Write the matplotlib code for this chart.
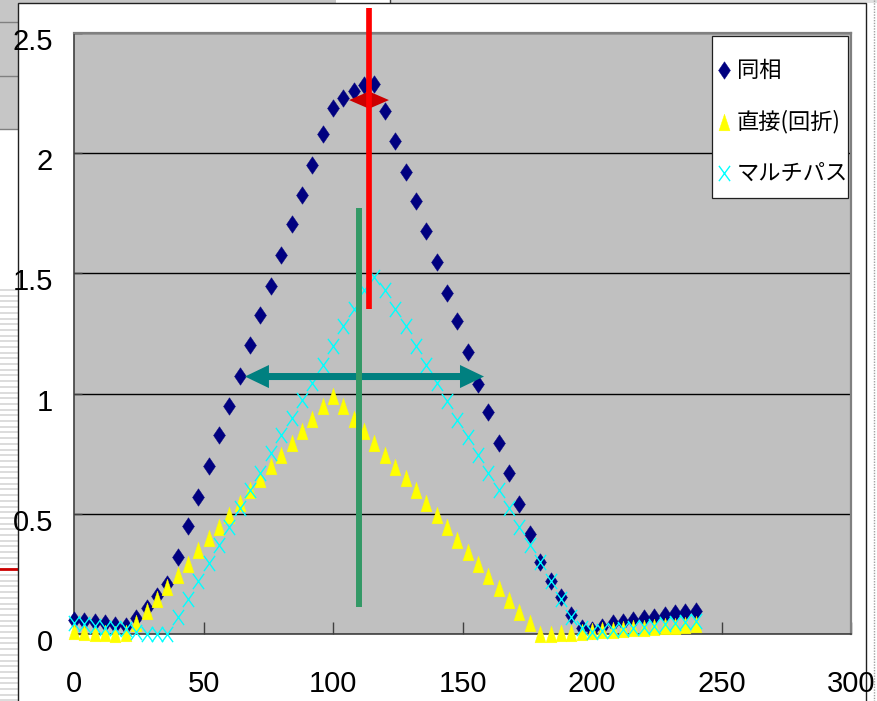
import matplotlib
matplotlib.use("Agg")
import matplotlib.pyplot as plt
from matplotlib.path import Path
from matplotlib.patches import Rectangle, Polygon
from matplotlib.lines import Line2D
from matplotlib.transforms import ScaledTranslation

# ---- data -------------------------------------------------------------
x_pos = [0, 4, 8, 12, 16, 20, 24, 28, 32, 36, 40, 44, 48, 52, 56, 60,
         64, 68, 72, 76, 80, 84, 88, 92, 96, 100, 104, 108, 112, 116, 120,
         124, 128, 132, 136, 140, 144, 148, 152, 156, 160, 164, 168, 172,
         176, 180, 184, 188, 192, 196, 200, 204, 208, 212, 216, 220, 224,
         228, 232, 236, 240]

in_phase = [0.058, 0.055, 0.050, 0.045, 0.038, 0.034, 0.065, 0.110, 0.160,
            0.208, 0.322, 0.449, 0.570, 0.697, 0.826, 0.947, 1.072, 1.201,
            1.326, 1.447, 1.575, 1.704, 1.825, 1.950, 2.079, 2.190, 2.229,
            2.257, 2.283, 2.288, 2.176, 2.051, 1.922, 1.803, 1.675, 1.549,
            1.420, 1.300, 1.172, 1.042, 0.925, 0.795, 0.670, 0.542, 0.415,
            0.299, 0.221, 0.155, 0.079, 0.024, 0.017, 0.030, 0.045, 0.051,
            0.058, 0.065, 0.072, 0.079, 0.086, 0.093, 0.097]

direct = [0.012, 0.010, 0.006, 0.005, 0.002, 0.005, 0.045, 0.094, 0.145,
          0.194, 0.245, 0.293, 0.350, 0.399, 0.447, 0.497, 0.547, 0.600,
          0.645, 0.697, 0.746, 0.794, 0.845, 0.896, 0.950, 0.989, 0.950,
          0.896, 0.846, 0.796, 0.746, 0.696, 0.647, 0.597, 0.546, 0.496,
          0.447, 0.393, 0.343, 0.293, 0.243, 0.192, 0.143, 0.093, 0.046,
          0.000, 0.000, 0.003, 0.005, 0.010, 0.012, 0.016, 0.017, 0.022,
          0.024, 0.026, 0.031, 0.033, 0.035, 0.039, 0.040]

multipath = [0.044, 0.040, 0.032, 0.026, 0.024, 0.020, 0.010, 0.000, 0.000,
             0.000, 0.070, 0.144, 0.222, 0.294, 0.371, 0.447, 0.524, 0.600,
             0.670, 0.753, 0.829, 0.899, 0.975, 1.045, 1.121, 1.197, 1.280,
             1.350, 1.430, 1.487, 1.432, 1.350, 1.280, 1.200, 1.121, 1.045,
             0.968, 0.892, 0.820, 0.746, 0.670, 0.600, 0.524, 0.444, 0.371,
             0.301, 0.222, 0.144, 0.072, 0.024, 0.010, 0.012, 0.016, 0.020,
             0.025, 0.030, 0.034, 0.040, 0.044, 0.050, 0.054]

series_names = ["同相", "直接(回折)", "マルチパス"]
x_ticks = [0, 50, 100, 150, 200, 250, 300]
x_tick_labels = ["0", "50", "100", "150", "200", "250", "300"]
y_ticks = [0, 0.5, 1, 1.5, 2, 2.5]
y_tick_labels = ["0", "0.5", "1", "1.5", "2", "2.5"]

# ---- figure geometry (pixels) ----------------------------------------
W, H = 877, 701
DPI = 100
fig = plt.figure(figsize=(W / DPI, H / DPI), dpi=DPI, facecolor="white")


def fx(px):
    return px / W


def fy(py):
    return 1 - py / H


def fig_rect(x0, y0, x1, y1, **kw):
    r = Rectangle((fx(x0), fy(y1)), fx(x1) - fx(x0), fy(y0) - fy(y1),
                  transform=fig.transFigure, **kw)
    fig.add_artist(r)
    return r


def fig_hline(y, x0, x1, **kw):
    fig.add_artist(Line2D([fx(x0), fx(x1)], [fy(y), fy(y)],
                          transform=fig.transFigure, **kw))


def fig_vline(x, y0, y1, **kw):
    fig.add_artist(Line2D([fx(x), fx(x)], [fy(y0), fy(y1)],
                          transform=fig.transFigure, **kw))


# spreadsheet behind the chart object
fig_rect(0, 0, 18, 130, facecolor="#c6c6c6", edgecolor="none", zorder=0)
for yy in (22, 76, 129):
    fig_hline(yy, 0, 18, color="#808080", lw=1.0, zorder=1)
yy = 290.0
while yy < H:
    fig_hline(yy, 0, 18, color="#dcdcdc", lw=1.4, zorder=1)
    yy += 5.7
fig_hline(569, 0, 18, color="#cc0000", lw=2.0, zorder=1)
fig_rect(18, 0, 336, 3, facecolor="#c6c6c6", edgecolor="none", zorder=0)
fig_rect(390, 0, W, 3, facecolor="#e0e0e0", edgecolor="none", zorder=0)
fig_vline(390, 0, 3, color="#404040", lw=1.0, zorder=1)

# chart area
fig_rect(18, 3, 866, H + 5, facecolor="white", edgecolor="#202020",
         lw=1.0, zorder=1)
fig_vline(874, 0, H, color="#a0a0a0", lw=1.0, ls=(0, (1, 1)), zorder=1)

# ---- plot area --------------------------------------------------------
ax = fig.add_axes([fx(74), fy(634), fx(851) - fx(74), fy(33) - fy(634)])
ax.set_zorder(2)
ax.set_facecolor("#c0c0c0")
ax.set_xlim(0, 300)
ax.set_ylim(0, 2.5)

ax.set_xticks(x_ticks, x_tick_labels)
ax.set_yticks(y_ticks, y_tick_labels)
ax.tick_params(axis="x", direction="in", length=8.6, width=1.0,
               color="#404040", pad=26, labelsize=21)
ax.tick_params(axis="y", direction="in", length=6.0, width=1.0,
               color="#404040", pad=15, labelsize=21)
for lab in ax.get_xticklabels() + ax.get_yticklabels():
    lab.set_fontfamily(["Liberation Sans", "DejaVu Sans"])
shift = ScaledTranslation(0, -6 / DPI, fig.dpi_scale_trans)
for t in ax.yaxis.get_major_ticks():
    t.label1.set_transform(t.label1.get_transform() + shift)

ax.set_axisbelow(True)
ax.yaxis.grid(True, color="black", lw=1.0)
for side in ("left", "bottom"):
    ax.spines[side].set_color("#404040")
    ax.spines[side].set_linewidth(1.2)
for side in ("top", "right"):
    ax.spines[side].set_color("#808080")
    ax.spines[side].set_linewidth(1.6)

# marker shapes
diamond = Path([(0, 1), (0.68, 0), (0, -1), (-0.68, 0), (0, 1)],
               [Path.MOVETO, Path.LINETO, Path.LINETO, Path.LINETO,
                Path.CLOSEPOLY])
triangle = Path([(0, 1), (0.66, -1), (-0.66, -1), (0, 1)],
                [Path.MOVETO, Path.LINETO, Path.LINETO, Path.CLOSEPOLY])
cross = Path([(-0.73, -1), (0.73, 1), (-0.73, 1), (0.73, -1)],
             [Path.MOVETO, Path.LINETO, Path.MOVETO, Path.LINETO])

styles = [
    dict(marker=diamond, markersize=12.6, markerfacecolor="#000080",
         markeredgecolor="#000080", markeredgewidth=0.3),
    dict(marker=triangle, markersize=12.0, markerfacecolor="#ffff00",
         markeredgecolor="#ffff00", markeredgewidth=0.3),
    dict(marker=cross, markersize=11.0, markerfacecolor="none",
         markeredgecolor="#00ffff", markeredgewidth=1.0),
]

for vals, st, z in zip((in_phase, direct, multipath), styles, (3, 4, 5)):
    ax.plot(x_pos, vals, linestyle="none", clip_on=False, zorder=z, **st)

# ---- annotations ------------------------------------------------------
# peak marker: red diamond with vertical bar
peak_x, peak_y = 113.9, 2.221
dia_hw, dia_hh = 7.7, 0.036
ax.add_patch(Polygon([(peak_x - dia_hw, peak_y), (peak_x, peak_y + dia_hh),
                      (peak_x + dia_hw, peak_y), (peak_x, peak_y - dia_hh)],
                     closed=True, facecolor="#cc0000", edgecolor="none",
                     zorder=6))
ax.plot([peak_x, peak_x], [1.35, 2.604], color="#ff0000", lw=4.1,
        solid_capstyle="butt", clip_on=False, zorder=7)

# green centre line
ax.plot([110.0, 110.0], [0.1125, 1.771], color="#339966", lw=4.3,
        solid_capstyle="butt", zorder=8)

# double-headed width arrow
ax0, ax1, ay = 66.0, 158.3, 1.071
shaft_h, head_h, head_l = 0.0146, 0.048, 9.27
ax.add_patch(Polygon([
    (ax0, ay), (ax0 + head_l, ay + head_h), (ax0 + head_l, ay + shaft_h),
    (ax1 - head_l, ay + shaft_h), (ax1 - head_l, ay + head_h), (ax1, ay),
    (ax1 - head_l, ay - head_h), (ax1 - head_l, ay - shaft_h),
    (ax0 + head_l, ay - shaft_h), (ax0 + head_l, ay - head_h)],
    closed=True, facecolor="#008080", edgecolor="none", zorder=7))

# ---- legend -----------------------------------------------------------
fig_rect(712, 36, 848, 198, facecolor="white", edgecolor="#202020",
         lw=0.9, zorder=10)
for name, st, yy in zip(series_names, styles, (70, 122, 173)):
    fig.add_artist(Line2D([fx(724)], [fy(yy)], transform=fig.transFigure,
                          linestyle="none", zorder=11, **st))
    fig.text(fx(737), fy(yy), name, ha="left", va="center", fontsize=16,
             family=["Noto Sans CJK JP", "DejaVu Sans"], zorder=11)

fig.savefig("out.png", dpi=DPI, facecolor="white")
